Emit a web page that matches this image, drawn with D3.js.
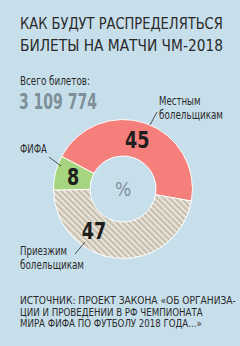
<!DOCTYPE html>
<html>
<head>
<meta charset="utf-8">
<script src="https://cdn.jsdelivr.net/npm/d3@7"></script>
<style>
  html, body { margin: 0; padding: 0; background: #c7dfeb; }
  svg { display: block; }
  text { font-family: "Liberation Sans Narrow", "DejaVu Sans Condensed", "DejaVu Sans", sans-serif; }
</style>
</head>
<body>
<div id="chart"></div>
<script>
"use strict"

const width = 240,
  height = 346;

// data
const titleLines = ["КАК БУДУТ РАСПРЕДЕЛЯТЬСЯ", "БИЛЕТЫ НА МАТЧИ ЧМ-2018"];
const totalLabel = "Всего билетов:";
const totalValue = "3 109 774";
const categories = ["Местным болельщикам", "Приезжим болельщикам", "ФИФА"];
const values = [45, 47, 8];
const sourceLines = [
  "ИСТОЧНИК: ПРОЕКТ ЗАКОНА «ОБ ОРГАНИЗА-",
  "ЦИИ И ПРОВЕДЕНИИ В РФ ЧЕМПИОНАТА",
  "МИРА ФИФА ПО ФУТБОЛУ 2018 ГОДА...»"
];

const colors = ["#f47f7b", "url(#hatch)", "#a7d47e"];

const svg = d3.select("#chart")
  .append("svg")
  .attr("width", width)
  .attr("height", height);

svg.append("rect")
  .attr("width", width)
  .attr("height", height)
  .attr("fill", "#c7dfeb");

// squeeze a text horizontally so it ends up w pixels wide
function fit(sel, w) {
  sel.each(function() {
    const t = d3.select(this);
    const x = +t.attr("x"), y = +t.attr("y");
    const n = this.getComputedTextLength();
    const k = Math.min(1, w / n);
    t.attr("x", 0).attr("y", 0)
      .attr("transform", `translate(${x},${y}) scale(${k},1)`);
  });
}

// hatch pattern for the visitors slice
const pat = svg.append("defs")
  .append("pattern")
  .attr("id", "hatch")
  .attr("patternUnits", "userSpaceOnUse")
  .attr("width", 4.2)
  .attr("height", 4.2)
  .attr("patternTransform", "rotate(-45)");
pat.append("rect")
  .attr("width", 4.2)
  .attr("height", 4.2)
  .attr("fill", "#e9e5dc");
pat.append("rect")
  .attr("width", 2.1)
  .attr("height", 4.2)
  .attr("fill", "#c6bdab");

// title
svg.append("g")
  .selectAll("text")
  .data(titleLines)
  .join("text")
    .attr("x", 20)
    .attr("y", (d, i) => 29 + i * 22)
    .attr("font-size", 16.5)
    .attr("fill", "#2a2a2a")
    .text(d => d)
    .call(fit, 203);

svg.append("text")
  .attr("x", 20)
  .attr("y", 85)
  .attr("font-size", 12)
  .attr("fill", "#2a2a2a")
  .text(totalLabel)
  .call(fit, 70);

svg.append("text")
  .attr("x", 19)
  .attr("y", 109)
  .attr("font-size", 21)
  .attr("font-weight", "bold")
  .attr("fill", "#7e8f99")
  .text(totalValue)
  .call(fit, 78);

// donut
const cx = 123, cy = 189;
const outerR = 69.5, innerR = 33;

const pie = d3.pie()
  .sort(null)
  .value(d => d)
  .startAngle(-62 * Math.PI / 180)
  .endAngle(298 * Math.PI / 180);

const arc = d3.arc()
  .innerRadius(innerR)
  .outerRadius(outerR);

const arcs = pie(values);

// label angle nudges (degrees) per slice, to sit like the original
const nudge = [-3, 30, 0];
const labelR = (innerR + outerR) / 2;
function labelPos(d, i) {
  const a = (d.startAngle + d.endAngle) / 2 + nudge[i] * Math.PI / 180;
  return [Math.sin(a) * labelR, -Math.cos(a) * labelR];
}

const g = svg.append("g")
  .attr("transform", `translate(${cx},${cy})`);

g.selectAll("path")
  .data(arcs)
  .join("path")
    .attr("d", arc)
    .attr("fill", (d, i) => colors[i])
    .attr("stroke", "#ffffff")
    .attr("stroke-width", 1);

g.selectAll("text.val")
  .data(arcs)
  .join("text")
    .attr("class", "val")
    .attr("transform", (d, i) => `translate(${labelPos(d, i)}) scale(0.85,1)`)
    .attr("text-anchor", "middle")
    .attr("dy", "0.36em")
    .attr("font-size", 23)
    .attr("font-weight", "bold")
    .attr("fill", "#1e1e1e")
    .text(d => d.data);

g.append("text")
  .attr("text-anchor", "middle")
  .attr("dy", "0.36em")
  .attr("font-size", 19)
  .attr("fill", "#7e8f99")
  .text("%");

// category labels with leader lines
const callouts = [
  { lines: ["Местным", "болельщикам"], x: 159, y: 105, w: 62, line: [[157, 112], [150, 125]] },
  { lines: ["Приезжим", "болельщикам"], x: 20, y: 255, w: 62, line: [[75, 254], [85, 242]] },
  { lines: ["ФИФА"], x: 20, y: 153, w: 25, line: [[49, 157], [61, 166]] }
];

const callG = svg.append("g");
callouts.forEach(c => {
  const longest = d3.max(c.lines, d => d.length);
  c.lines.forEach((line, i) => {
    callG.append("text")
      .attr("x", c.x)
      .attr("y", c.y + i * 13.5)
      .attr("font-size", 12.5)
      .attr("fill", "#2a2a2a")
      .text(line)
      .call(fit, c.w * line.length / longest + 2);
  });
  callG.append("path")
    .attr("d", d3.line()(c.line))
    .attr("stroke", "#2a2a2a")
    .attr("stroke-width", 0.8)
    .attr("fill", "none");
});

// source
svg.append("g")
  .selectAll("text")
  .data(sourceLines)
  .join("text")
    .attr("x", 20)
    .attr("y", (d, i) => 304 + i * 11.7)
    .attr("font-size", 11)
    .attr("fill", "#2a2a2a")
    .text(d => d)
    .each(function(d, i) { d3.select(this).call(fit, [216, 183, 182][i]); });
</script>
</body>
</html>
